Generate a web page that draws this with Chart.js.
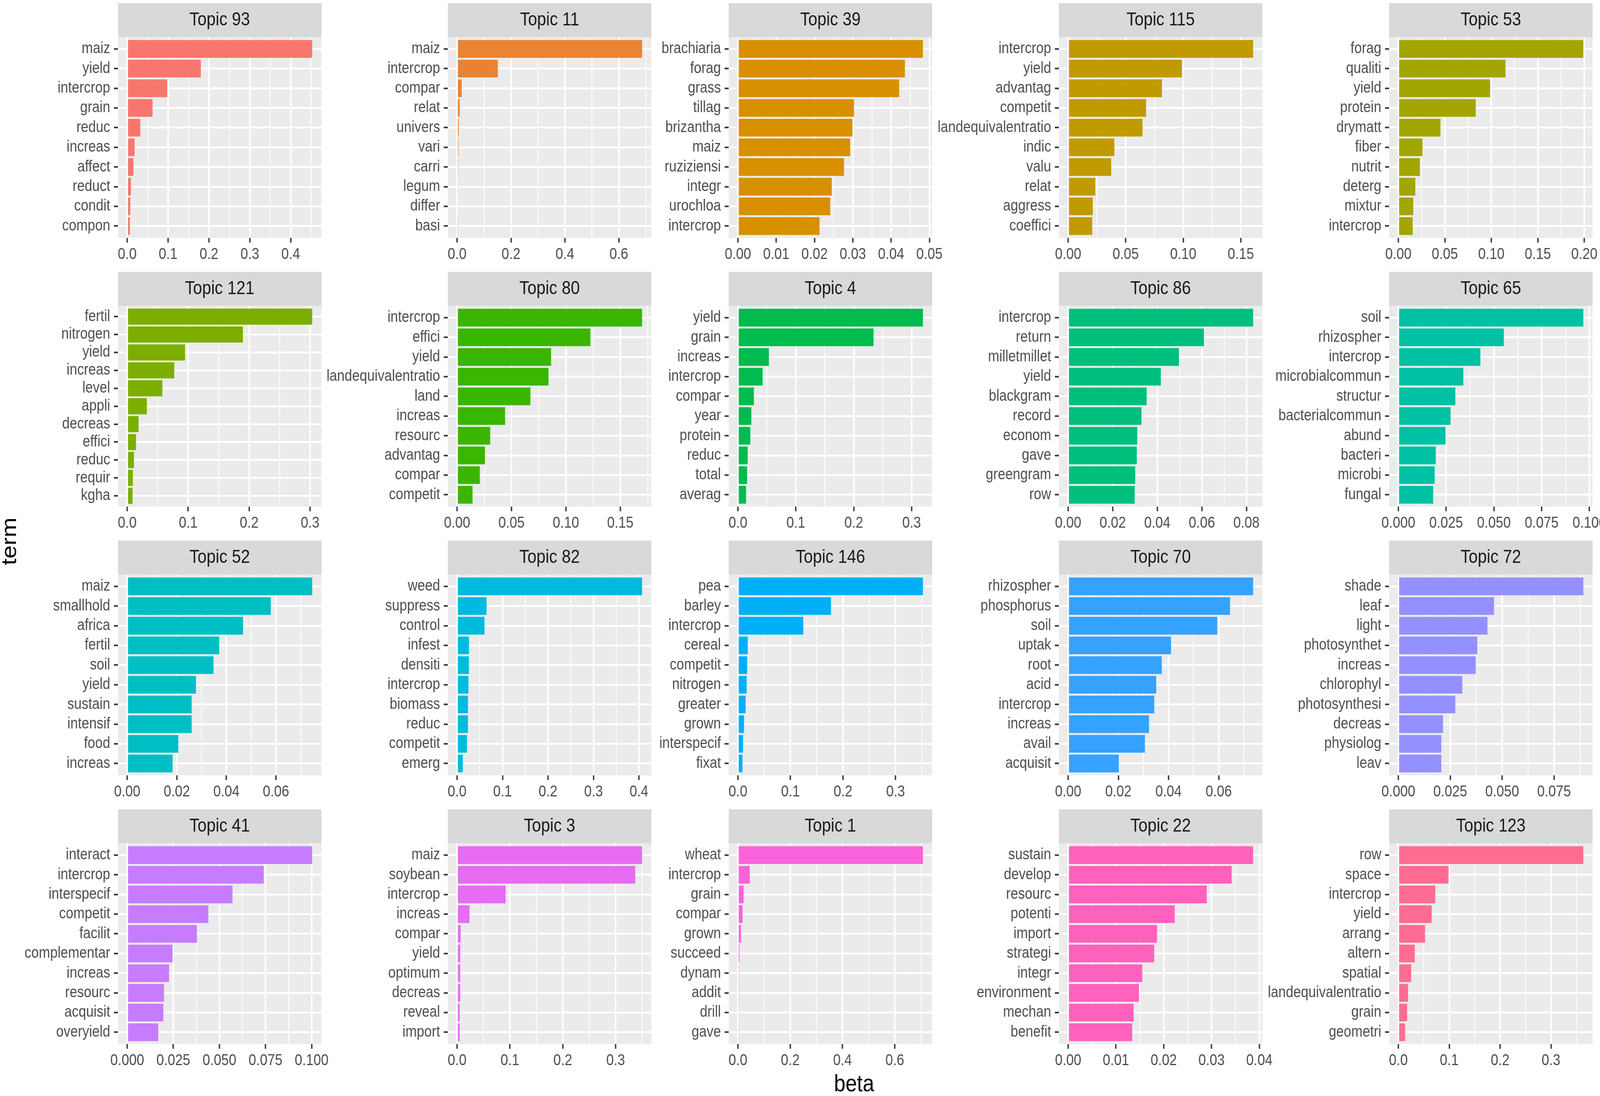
<!DOCTYPE html>
<html>
<head>
<meta charset="utf-8">
<title>Top terms per topic</title>
<script src="https://cdn.jsdelivr.net/npm/chart.js@4.4.1/dist/chart.umd.min.js"></script>
<style>
  html, body { margin: 0; padding: 0; background: #ffffff; overflow: hidden; }
  #wrap { position: relative; width: 4734px; height: 2806px; overflow: hidden; }
  #page { position: absolute; left: 0; top: 0; width: 4734px; height: 2806px; overflow: hidden;
          transform-origin: 0 0; font-family: "Liberation Sans", Arial, sans-serif; }
  #page canvas { position: absolute; }
  .axis-title { position: absolute; font-size: 61px; line-height: 61px; color: #000000; white-space: nowrap; }
  #xTitle { left: 2527px; top: 2743px; transform: translateX(-50%); }
  #yTitle { left: 27px; top: 1386px; transform: translate(-50%, -50%) rotate(-90deg); }
</style>
</head>
<body>
<div id="wrap">
  <div id="page">
    <div class="axis-title" id="xTitle">beta</div>
    <div class="axis-title" id="yTitle">term</div>
  </div>
</div>
<script>
// ---- data: terms, beta values and x tick labels per topic ----
const t93Terms = ['maiz', 'yield', 'intercrop', 'grain', 'reduc', 'increas', 'affect', 'reduct', 'condit', 'compon'];
const t93Beta = [0.4525, 0.180, 0.098, 0.062, 0.032, 0.018, 0.015, 0.009, 0.0076, 0.0064];
const t93Ticks = ['0.0', '0.1', '0.2', '0.3', '0.4'];

const t11Terms = ['maiz', 'intercrop', 'compar', 'relat', 'univers', 'vari', 'carri', 'legum', 'differ', 'basi'];
const t11Beta = [0.686, 0.151, 0.017, 0.0096, 0.006, 0.005, 0.004, 0.0035, 0.003, 0.002];
const t11Ticks = ['0.0', '0.2', '0.4', '0.6'];

const t39Terms = ['brachiaria', 'forag', 'grass', 'tillag', 'brizantha', 'maiz', 'ruziziensi', 'integr', 'urochloa', 'intercrop'];
const t39Beta = [0.0483, 0.0436, 0.0421, 0.0303, 0.0299, 0.0293, 0.0277, 0.0245, 0.0241, 0.0213];
const t39Ticks = ['0.00', '0.01', '0.02', '0.03', '0.04', '0.05'];

const t115Terms = ['intercrop', 'yield', 'advantag', 'competit', 'landequivalentratio', 'indic', 'valu', 'relat', 'aggress', 'coeffici'];
const t115Beta = [0.1607, 0.0988, 0.0815, 0.0677, 0.0646, 0.0401, 0.0374, 0.0236, 0.0214, 0.0209];
const t115Ticks = ['0.00', '0.05', '0.10', '0.15'];

const t53Terms = ['forag', 'qualiti', 'yield', 'protein', 'drymatt', 'fiber', 'nutrit', 'deterg', 'mixtur', 'intercrop'];
const t53Beta = [0.1989, 0.1152, 0.0986, 0.0832, 0.0452, 0.0259, 0.0231, 0.0182, 0.016, 0.0154];
const t53Ticks = ['0.00', '0.05', '0.10', '0.15', '0.20'];

const t121Terms = ['fertil', 'nitrogen', 'yield', 'increas', 'level', 'appli', 'decreas', 'effici', 'reduc', 'requir', 'kgha'];
const t121Beta = [0.3034, 0.1898, 0.0949, 0.0771, 0.0576, 0.0322, 0.0186, 0.0144, 0.011, 0.0093, 0.0088];
const t121Ticks = ['0.0', '0.1', '0.2', '0.3'];

const t80Terms = ['intercrop', 'effici', 'yield', 'landequivalentratio', 'land', 'increas', 'resourc', 'advantag', 'compar', 'competit'];
const t80Beta = [0.170, 0.1225, 0.0864, 0.084, 0.0674, 0.0441, 0.0304, 0.0256, 0.0209, 0.0142];
const t80Ticks = ['0.00', '0.05', '0.10', '0.15'];

const t4Terms = ['yield', 'grain', 'increas', 'intercrop', 'compar', 'year', 'protein', 'reduc', 'total', 'averag'];
const t4Beta = [0.3195, 0.2342, 0.0534, 0.0426, 0.0275, 0.0231, 0.0213, 0.0168, 0.0158, 0.014];
const t4Ticks = ['0.0', '0.1', '0.2', '0.3'];

const t86Terms = ['intercrop', 'return', 'milletmillet', 'yield', 'blackgram', 'record', 'econom', 'gave', 'greengram', 'row'];
const t86Beta = [0.083, 0.0609, 0.0497, 0.0416, 0.0352, 0.0329, 0.031, 0.0308, 0.0301, 0.0299];
const t86Ticks = ['0.00', '0.02', '0.04', '0.06', '0.08'];

const t65Terms = ['soil', 'rhizospher', 'intercrop', 'microbialcommun', 'structur', 'bacterialcommun', 'abund', 'bacteri', 'microbi', 'fungal'];
const t65Beta = [0.0968, 0.0552, 0.0429, 0.034, 0.0298, 0.0273, 0.0247, 0.0196, 0.019, 0.0182];
const t65Ticks = ['0.000', '0.025', '0.050', '0.075', '0.100'];

const t52Terms = ['maiz', 'smallhold', 'africa', 'fertil', 'soil', 'yield', 'sustain', 'intensif', 'food', 'increas'];
const t52Beta = [0.0746, 0.0579, 0.0467, 0.0371, 0.0348, 0.0277, 0.026, 0.026, 0.0206, 0.0183];
const t52Ticks = ['0.00', '0.02', '0.04', '0.06'];

const t82Terms = ['weed', 'suppress', 'control', 'infest', 'densiti', 'intercrop', 'biomass', 'reduc', 'competit', 'emerg'];
const t82Beta = [0.4068, 0.0648, 0.0602, 0.0261, 0.026, 0.025, 0.0239, 0.0239, 0.0216, 0.0125];
const t82Ticks = ['0.0', '0.1', '0.2', '0.3', '0.4'];

const t146Terms = ['pea', 'barley', 'intercrop', 'cereal', 'competit', 'nitrogen', 'greater', 'grown', 'interspecif', 'fixat'];
const t146Beta = [0.352, 0.177, 0.1243, 0.0186, 0.0176, 0.0166, 0.0146, 0.0116, 0.0096, 0.0086];
const t146Ticks = ['0.0', '0.1', '0.2', '0.3'];

const t70Terms = ['rhizospher', 'phosphorus', 'soil', 'uptak', 'root', 'acid', 'intercrop', 'increas', 'avail', 'acquisit'];
const t70Beta = [0.0737, 0.0645, 0.0594, 0.041, 0.0373, 0.0351, 0.0343, 0.0322, 0.0306, 0.0202];
const t70Ticks = ['0.00', '0.02', '0.04', '0.06'];

const t72Terms = ['shade', 'leaf', 'light', 'photosynthet', 'increas', 'chlorophyl', 'photosynthesi', 'decreas', 'physiolog', 'leav'];
const t72Beta = [0.0891, 0.0461, 0.0429, 0.038, 0.0373, 0.0308, 0.0274, 0.0215, 0.0207, 0.0207];
const t72Ticks = ['0.000', '0.025', '0.050', '0.075'];

const t41Terms = ['interact', 'intercrop', 'interspecif', 'competit', 'facilit', 'complementar', 'increas', 'resourc', 'acquisit', 'overyield'];
const t41Beta = [0.1003, 0.074, 0.0571, 0.044, 0.0378, 0.0246, 0.0227, 0.0199, 0.0196, 0.0168];
const t41Ticks = ['0.000', '0.025', '0.050', '0.075', '0.100'];

const t3Terms = ['maiz', 'soybean', 'intercrop', 'increas', 'compar', 'yield', 'optimum', 'decreas', 'reveal', 'import'];
const t3Beta = [0.35, 0.3372, 0.0919, 0.0235, 0.0068, 0.0059, 0.0059, 0.0059, 0.0049, 0.0049];
const t3Ticks = ['0.0', '0.1', '0.2', '0.3'];

const t1Terms = ['wheat', 'intercrop', 'grain', 'compar', 'grown', 'succeed', 'dynam', 'addit', 'drill', 'gave'];
const t1Beta = [0.7075, 0.0452, 0.0215, 0.0174, 0.0116, 0.0057, 0.004, 0.004, 0.0035, 0.0025];
const t1Ticks = ['0.0', '0.2', '0.4', '0.6'];

const t22Terms = ['sustain', 'develop', 'resourc', 'potenti', 'import', 'strategi', 'integr', 'environment', 'mechan', 'benefit'];
const t22Beta = [0.0387, 0.0342, 0.029, 0.0223, 0.0186, 0.018, 0.0155, 0.0148, 0.0137, 0.0134];
const t22Ticks = ['0.00', '0.01', '0.02', '0.03', '0.04'];

const t123Terms = ['row', 'space', 'intercrop', 'yield', 'arrang', 'altern', 'spatial', 'landequivalentratio', 'grain', 'geometri'];
const t123Beta = [0.3635, 0.0987, 0.0725, 0.0655, 0.0524, 0.0322, 0.0252, 0.0191, 0.0171, 0.0131];
const t123Ticks = ['0.0', '0.1', '0.2', '0.3'];

// panel order, row by row
const topicNames = ['Topic 93', 'Topic 11', 'Topic 39', 'Topic 115', 'Topic 53',
                    'Topic 121', 'Topic 80', 'Topic 4', 'Topic 86', 'Topic 65',
                    'Topic 52', 'Topic 82', 'Topic 146', 'Topic 70', 'Topic 72',
                    'Topic 41', 'Topic 3', 'Topic 1', 'Topic 22', 'Topic 123'];
const topicTerms = [t93Terms, t11Terms, t39Terms, t115Terms, t53Terms,
                    t121Terms, t80Terms, t4Terms, t86Terms, t65Terms,
                    t52Terms, t82Terms, t146Terms, t70Terms, t72Terms,
                    t41Terms, t3Terms, t1Terms, t22Terms, t123Terms];
const topicBeta = [t93Beta, t11Beta, t39Beta, t115Beta, t53Beta,
                   t121Beta, t80Beta, t4Beta, t86Beta, t65Beta,
                   t52Beta, t82Beta, t146Beta, t70Beta, t72Beta,
                   t41Beta, t3Beta, t1Beta, t22Beta, t123Beta];
const topicTicks = [t93Ticks, t11Ticks, t39Ticks, t115Ticks, t53Ticks,
                    t121Ticks, t80Ticks, t4Ticks, t86Ticks, t65Ticks,
                    t52Ticks, t82Ticks, t146Ticks, t70Ticks, t72Ticks,
                    t41Ticks, t3Ticks, t1Ticks, t22Ticks, t123Ticks];

// ggplot hue palette, 20 levels
const topicColors = ['#F8766D', '#EA8331', '#D89000', '#C09B00', '#A3A500',
                     '#7CAE00', '#39B600', '#00BB4E', '#00BF7D', '#00C1A3',
                     '#00BFC4', '#00BAE0', '#00B0F6', '#35A2FF', '#9590FF',
                     '#C77CFF', '#E76BF3', '#FA62DB', '#FF62BC', '#FF6C91'];

// ---- layout (design pixels, 4734 x 2806) ----
const pageW = 4734, pageH = 2806;
const colLeft = [349, 1325, 2156, 3133, 4110];
const rowTop = [8, 696, 1384, 2072];
const panelW = 602, panelH = 514, stripH = 87;
const labelW = 400, padRight = 70, axisH = 70;

Chart.defaults.font.family = '"Liberation Sans", Arial, sans-serif';

// grey strip above the panel and grey panel background
const panelBg = {
  id: 'panelBg',
  beforeDraw(chart) {
    const a = chart.chartArea;
    const ctx = chart.ctx;
    ctx.save();
    ctx.fillStyle = '#D9D9D9';
    ctx.fillRect(a.left, 0, a.right - a.left, a.top);
    ctx.fillStyle = '#EBEBEB';
    ctx.fillRect(a.left, a.top, a.right - a.left, a.bottom - a.top);
    ctx.restore();
  }
};

/**
 * major ticks from the labels, minor ticks half way between them
 */
function xTicks(labels, lo, hi) {
  const majors = labels.map(Number);
  const step = majors[1] - majors[0];
  const out = majors.map((v, k) => ({ value: v, name: labels[k] }));
  for (let k = 0; k <= majors.length; k++) {
    const v = majors[0] + (k - 0.5) * step;
    if (v >= lo && v <= hi) out.push({ value: v, minor: true });
  }
  return out.sort((a, b) => a.value - b.value);
}

/**
 * draw one facet panel
 */
function drawTopic(canvas, i) {
  const terms = topicTerms[i];
  const beta = topicBeta[i];
  const top = Math.max(...beta);
  const xMin = -0.05 * top;
  const xMax = 1.05 * top;

  new Chart(canvas, {
    type: 'bar',
    data: {
      datasets: [{
        data: beta.map((b, k) => ({ x: b, y: k })),
        backgroundColor: topicColors[i],
        borderWidth: 0,
        barPercentage: 0.9,
        categoryPercentage: 1
      }]
    },
    options: {
      indexAxis: 'y',
      responsive: false,
      animation: false,
      devicePixelRatio: 1,
      layout: { padding: { left: 0, right: padRight, top: 0, bottom: 0 } },
      plugins: {
        legend: { display: false },
        tooltip: { enabled: false },
        title: {
          display: true,
          text: topicNames[i],
          fullSize: false,
          color: '#1A1A1A',
          font: { size: 48, weight: 'normal', lineHeight: 1 },
          padding: { top: 20, bottom: 19 }
        }
      },
      scales: {
        y: {
          type: 'linear',
          reverse: true,
          offset: false,
          min: -0.6,
          max: terms.length - 0.4,
          afterBuildTicks: s => { s.ticks = terms.map((t, k) => ({ value: k })); },
          afterFit: s => { s.width = labelW; },
          ticks: {
            autoSkip: false,
            callback: v => terms[v],
            color: '#4D4D4D',
            font: { size: 40 },
            padding: 11
          },
          grid: {
            offset: false,
            color: '#FFFFFF',
            lineWidth: 4.7,
            tickLength: 12,
            tickColor: '#333333',
            tickWidth: 4
          },
          border: { display: false }
        },
        x: {
          type: 'linear',
          offset: false,
          min: xMin,
          max: xMax,
          afterBuildTicks: s => { s.ticks = xTicks(topicTicks[i], xMin, xMax); },
          afterFit: s => { s.height = axisH; },
          ticks: {
            autoSkip: false,
            maxRotation: 0,
            callback: (v, k, ts) => ts[k].minor ? '' : ts[k].name,
            color: '#4D4D4D',
            font: { size: 40 },
            padding: 7
          },
          grid: {
            color: '#FFFFFF',
            lineWidth: c => (c.tick && c.tick.minor) ? 2.4 : 4.7,
            tickLength: 12,
            tickColor: c => (c.tick && c.tick.minor) ? 'rgba(0,0,0,0)' : '#333333',
            tickWidth: 4
          },
          border: { display: false }
        }
      }
    },
    plugins: [panelBg]
  });
}

window.onload = function() {
  // stretch the 4734 x 2806 design over the viewport the window really has
  const sx = window.innerWidth / pageW;
  const sy = window.innerHeight / pageH;
  const wrap = document.getElementById('wrap');
  const page = document.getElementById('page');
  wrap.style.width = window.innerWidth + 'px';
  wrap.style.height = window.innerHeight + 'px';
  page.style.transform = 'scale(' + sx + ',' + sy + ')';

  for (let i = 0; i < topicNames.length; i++) {
    const col = i % 5;
    const row = Math.floor(i / 5);
    const c = document.createElement('canvas');
    const w = labelW + panelW + padRight;
    const h = stripH + panelH + axisH;
    c.style.left = (colLeft[col] - labelW) + 'px';
    c.style.top = rowTop[row] + 'px';
    c.style.width = w + 'px';
    c.style.height = h + 'px';
    c.width = w;
    c.height = h;
    page.appendChild(c);
    drawTopic(c, i);
  }
};
</script>
</body>
</html>
